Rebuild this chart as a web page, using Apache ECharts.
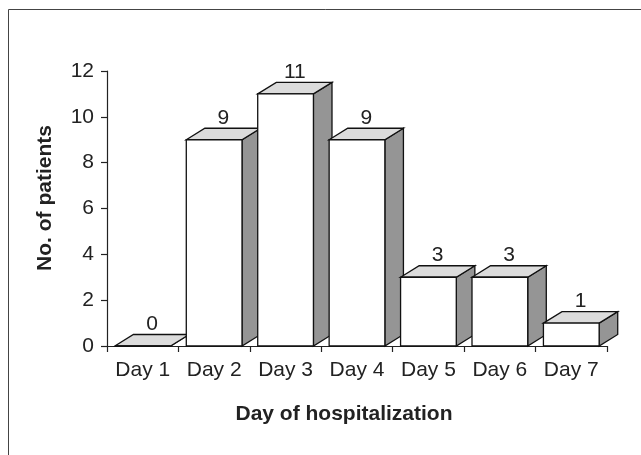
<!DOCTYPE html>
<html>
<head>
<meta charset="utf-8">
<script src="https://cdn.jsdelivr.net/npm/echarts@6/dist/echarts.min.js"></script>
<style>html,body{margin:0;padding:0;background:#fff;}#c{width:641px;height:455px;}</style>
</head>
<body>
<div id="c"></div>
<script>
const categories = ['Day 1', 'Day 2', 'Day 3', 'Day 4', 'Day 5', 'Day 6', 'Day 7'];
const patients = [0, 9, 11, 9, 3, 3, 1];
const yTicks = { min: 0, max: 12, interval: 2 };
const xTitle = 'Day of hospitalization';
const yTitle = 'No. of patients';

const FONT = '"Liberation Sans", Arial, sans-serif';
const chart = echarts.init(document.getElementById('c'), null, { renderer: 'canvas' });

function renderBar(params, api) {
  const idx = api.value(0), v = api.value(1);
  const c = api.coord([idx, v]);
  const b = api.coord([idx, 0]);
  const bw = api.size([1, 0])[0];
  const x0 = c[0] - bw / 2 + bw * 0.11;
  const w = bw * 0.78;
  const dx = bw * 0.26;
  const dy = -11.5;
  const ty = c[1], by = b[1];
  const stroke = { stroke: '#111', lineWidth: 1.3 };
  return {
    type: 'group',
    children: [
      { type: 'polygon', shape: { points: [[x0 + w, ty], [x0 + w + dx, ty + dy], [x0 + w + dx, by + dy], [x0 + w, by]] },
        style: Object.assign({ fill: '#959595' }, stroke) },
      { type: 'polygon', shape: { points: [[x0, ty], [x0 + dx, ty + dy], [x0 + w + dx, ty + dy], [x0 + w, ty]] },
        style: Object.assign({ fill: '#dcdcdc' }, stroke) },
      { type: 'rect', shape: { x: x0, y: ty, width: w, height: by - ty },
        style: Object.assign({ fill: '#ffffff' }, stroke) },
      { type: 'text', x: x0 + w / 2 + dx / 2, y: ty + dy,
        style: { text: String(v), font: '21px ' + FONT, fill: '#222', align: 'center', verticalAlign: 'bottom' } }
    ]
  };
}

chart.setOption({
  animation: false,
  backgroundColor: '#fff',
  grid: { left: 107, right: 34, top: 71, bottom: 109, containLabel: false },
  xAxis: {
    type: 'category',
    data: categories,
    boundaryGap: true,
    axisLine: { lineStyle: { color: '#222', width: 1.2 } },
    axisTick: { show: true, length: 6, lineStyle: { color: '#222', width: 1.2 } },
    axisLabel: { margin: 14, fontSize: 21, fontFamily: FONT, color: '#222' }
  },
  yAxis: {
    type: 'value',
    min: yTicks.min, max: yTicks.max, interval: yTicks.interval,
    axisLine: { show: true, lineStyle: { color: '#222', width: 1.2 } },
    axisTick: { show: true, length: 6, lineStyle: { color: '#222', width: 1.2 } },
    splitLine: { show: false },
    axisLabel: { margin: 13, fontSize: 21, fontFamily: FONT, color: '#222' }
  },
  series: [{
    type: 'custom',
    clip: false,
    renderItem: renderBar,
    encode: { x: 0, y: 1 },
    data: patients.map((v, i) => [i, v]),
    z: 3
  }],
  graphic: [
    { type: 'rect', z: -10, shape: { x: 8.5, y: 9.5, width: 700, height: 500 }, style: { fill: 'none', stroke: '#444', lineWidth: 1 } },
    { type: 'text', x: 45, y: 198, rotation: Math.PI / 2,
      style: { text: yTitle, font: 'bold 21px ' + FONT, fill: '#222', align: 'center', verticalAlign: 'middle' } },
    { type: 'text', x: 344, y: 414,
      style: { text: xTitle, font: 'bold 21px ' + FONT, fill: '#222', align: 'center', verticalAlign: 'middle' } }
  ]
});
</script>
</body>
</html>
